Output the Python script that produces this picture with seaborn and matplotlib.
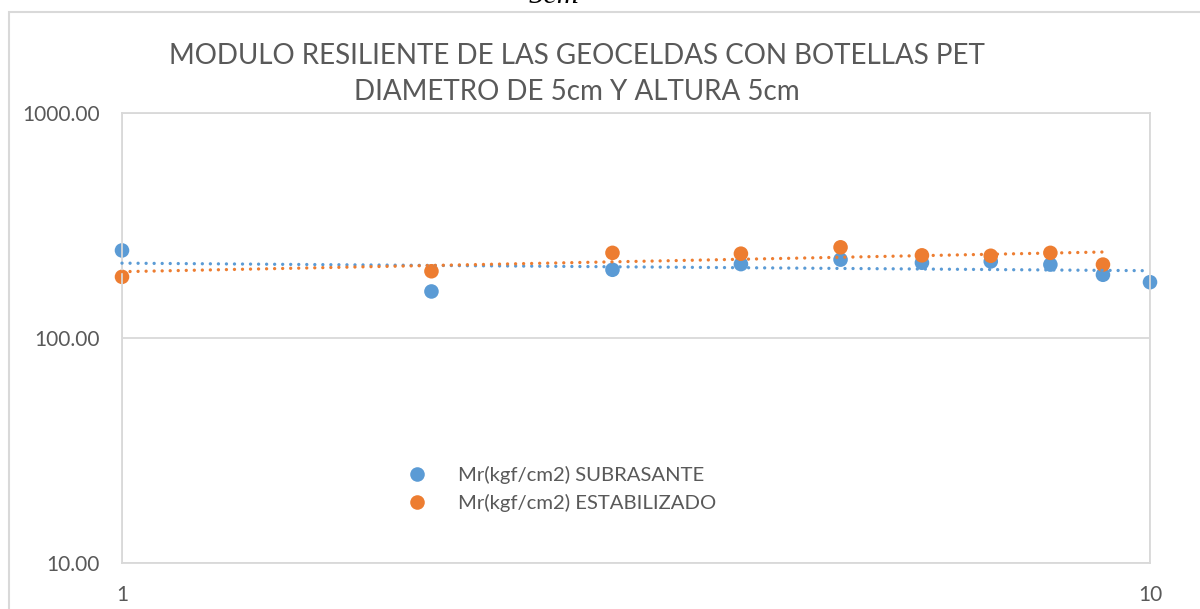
import numpy as np
import pandas as pd
import matplotlib
matplotlib.use("Agg")
import matplotlib.pyplot as plt
import seaborn as sns
from matplotlib.ticker import FixedLocator, FuncFormatter, NullLocator
from matplotlib.patches import Rectangle

# data
x_sub = [1, 2, 3, 4, 5, 6, 7, 8, 9, 10]
mr_sub = [245, 161, 201, 213, 223, 216, 219, 212, 191, 177]
x_est = [1, 2, 3, 4, 5, 6, 7, 8, 9]
mr_est = [187, 198, 239, 237, 253, 233, 232, 239, 212]

lbl_sub = "Mr(kgf/cm2) SUBRASANTE"
lbl_est = "Mr(kgf/cm2) ESTABILIZADO"
title = "MODULO RESILIENTE DE LAS GEOCELDAS CON BOTELLAS PET\nDIAMETRO DE 5cm Y ALTURA 5cm"

BLUE = "#5B9BD5"
ORANGE = "#ED7D31"
GREY_TXT = "#595959"
GRID = "#D9D9D9"

sns.set_theme(style="white")
plt.rcParams['font.family'] = ['Lato', 'DejaVu Sans']

df = pd.concat([
    pd.DataFrame({"x": x_sub, "mr": mr_sub, "serie": lbl_sub}),
    pd.DataFrame({"x": x_est, "mr": mr_est, "serie": lbl_est}),
], ignore_index=True)

W, H = 1200, 609
fig = plt.figure(figsize=(W / 100, H / 100), dpi=100)
ax = fig.add_axes([122 / W, 1 - 563 / H, (1150 - 122) / W, (563 - 113) / H])

ax.set_xscale("log")
ax.set_yscale("log")

sns.scatterplot(data=df, x="x", y="mr", hue="serie",
                palette={lbl_sub: BLUE, lbl_est: ORANGE},
                s=110, linewidth=0, ax=ax, zorder=2, clip_on=False)


# power trendlines (straight in log-log), like excel
def power_trend(xs, ys):
    b, a = np.polyfit(np.log10(xs), np.log10(ys), 1)
    xx = np.logspace(np.log10(min(xs)), np.log10(max(xs)), 200)
    return xx, 10 ** (a + b * np.log10(xx))


for xs, ys, c in [(x_sub, mr_sub, BLUE), (x_est, mr_est, ORANGE)]:
    xx, yy = power_trend(xs, ys)
    ax.plot(xx, yy, color=c, lw=2.4, linestyle=(0, (0.01, 2.4)),
            dash_capstyle="round", zorder=3, clip_on=False)

ax.set_xlim(1, 10)
ax.set_ylim(10, 1000)
ax.xaxis.set_major_locator(FixedLocator([1, 10]))
ax.xaxis.set_minor_locator(NullLocator())
ax.yaxis.set_major_locator(FixedLocator([10, 100, 1000]))
ax.yaxis.set_minor_locator(NullLocator())
ax.xaxis.set_major_formatter(FuncFormatter(lambda v, p: f"{v:g}"))
ax.yaxis.set_major_formatter(FuncFormatter(lambda v, p: f"{v:.2f}"))
ax.tick_params(axis="both", length=0, labelsize=15, labelcolor=GREY_TXT)
ax.tick_params(axis="y", pad=16)
ax.tick_params(axis="x", pad=16)
ax.set_xlabel("")
ax.set_ylabel("")

ax.grid(True, which="major", color=GRID, lw=1.3)
for sp in ax.spines.values():
    sp.set_color(GRID)
    sp.set_linewidth(1.3)

handles, labels = ax.get_legend_handles_labels()
ax.legend(handles, labels, loc="center left", frameon=False,
          bbox_to_anchor=(378 / W, 1 - 489 / H), bbox_transform=fig.transFigure,
          fontsize=14.6, labelcolor=GREY_TXT, handletextpad=1.05,
          labelspacing=0.45, markerscale=1.0)

fig.text(577 / W, 1 - 74 / H, title, ha="center", va="center",
         fontsize=20, color=GREY_TXT, linespacing=1.5)

# outer chart border and the clipped caption above it
fig.add_artist(Rectangle((9 / W, -0.1), 1.2, 1 - 12 / H + 0.1,
                         transform=fig.transFigure, fill=False,
                         edgecolor=GRID, lw=1.5))
fig.text(529 / W, 1 - 3 / H, "5cm", ha="left", va="baseline",
         fontsize=22, style="italic", family=["Liberation Serif"], color="black")

fig.savefig("out.png", dpi=100)
